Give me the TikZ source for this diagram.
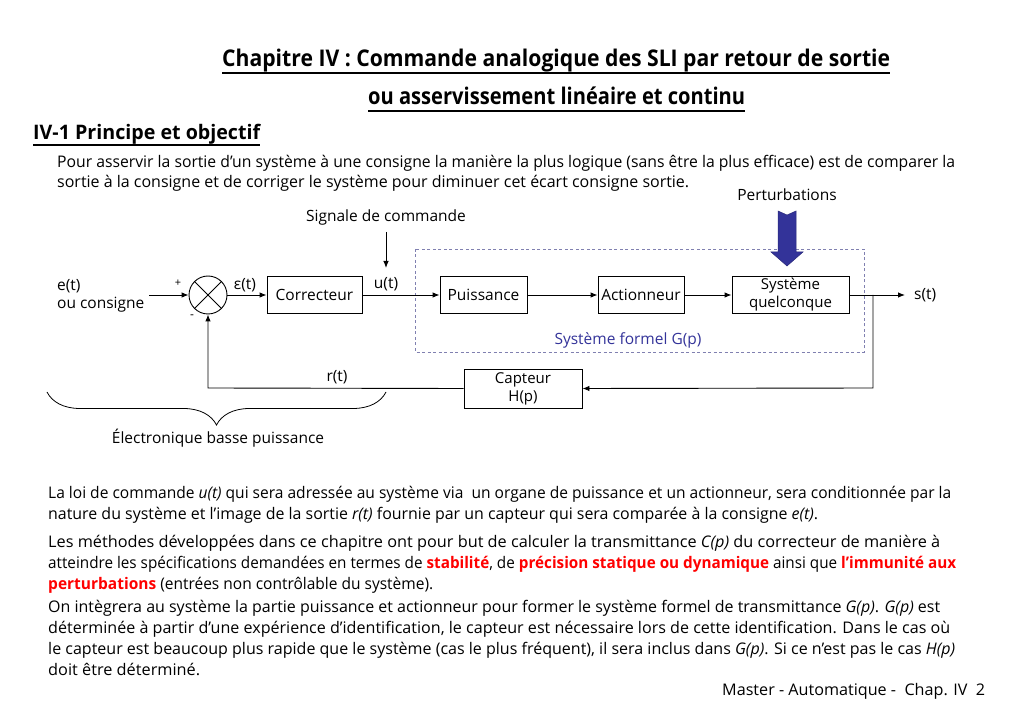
\documentclass[tikz,border=0pt]{standalone}
\usepackage{fontspec}
\setmainfont{Open Sans}
\usetikzlibrary{arrows.meta,decorations.pathreplacing}
\definecolor{navy}{RGB}{51,51,153}
\definecolor{dashc}{RGB}{128,128,176}
\definecolor{hired}{RGB}{255,0,0}
\newcommand{\hl}[1]{\textbf{\color{hired}#1}}
\newcommand{\diagfont}{\fontsize{15.5}{18}\selectfont}
\newcommand{\parfont}{\fontsize{16}{19}\selectfont}
\begin{document}
\begin{tikzpicture}[x=1pt,y=-1pt,
  blk/.style={draw,line width=0.9pt,inner sep=0pt,align=center,font=\fontsize{15.5}{18}\selectfont,minimum height=37pt},
  lbl/.style={inner sep=0pt,font=\diagfont},
  pline/.style={anchor=base west,inner sep=0pt,font=\parfont},
  tline/.style={anchor=base west,inner sep=0pt,font=\fontsize{23}{26}\selectfont\bfseries},
  sline/.style={anchor=base west,inner sep=0pt,font=\fontsize{20}{24}\selectfont\bfseries},
  uline/.style={line width=1.4pt},
  sig/.style={line width=0.9pt,-{Latex[length=7pt,width=5.5pt]}},
  wire/.style={line width=0.9pt}]
\useasboundingbox (0,0) rectangle (1023,708);

% titles
\node[tline] (t1) at (222,67) {\resizebox{668pt}{\height}{Chapitre IV : Commande analogique des SLI par retour de sortie}};
\node[tline] (t2) at (368,105) {\resizebox{377pt}{\height}{ou asservissement linéaire et continu}};
\node[sline] (t3) at (33,140) {\resizebox{227pt}{\height}{IV-1 Principe et objectif}};
\draw[uline] (t1.base west) ++(0,6) -- ([yshift=-6pt]t1.base east);
\draw[uline] (t2.base west) ++(0,6) -- ([yshift=-6pt]t2.base east);
\draw[uline] (t3.base west) ++(0,5) -- ([yshift=-5pt]t3.base east);

% intro paragraph
\node[pline] (p1) at (57,168) {\resizebox{898pt}{\height}{Pour asservir la sortie d’un système à une consigne la manière la plus logique (sans être la plus efficace) est de comparer la}};
\node[pline] (p2) at (57,188) {\resizebox{632pt}{\height}{sortie à la consigne et de corriger le système pour diminuer cet écart consigne sortie.}};

% diagram
\draw[dashc,dashed,line width=0.8pt,dash pattern=on 3pt off 2.5pt] (415,249) rectangle (864,352);
\node[lbl,navy] (sf) at (628,340) {Système formel G(p)};

\node[draw,circle,line width=0.9pt,minimum size=38pt,inner sep=0pt] (sum) at (208,295) {};
\draw[line width=0.8pt] (sum.north west) -- (sum.south east);
\draw[line width=0.8pt] (sum.north east) -- (sum.south west);

\node[blk,minimum width=95pt] (corr) at (314.5,295) {Correcteur};
\node[blk,minimum width=87pt] (puis) at (483.5,295) {Puissance};
\node[blk,minimum width=86pt] (act) at (641,295) {Actionneur};
\node[blk,minimum width=117pt,font=\fontsize{15}{18}\selectfont] (sys) at (790.5,295) {Système\\quelconque};
\node[blk,minimum width=118pt,minimum height=39pt,font=\fontsize{15}{18}\selectfont] (capt) at (523,388.5) {Capteur\\H(p)};

\node[lbl,anchor=west] (e1) at (57,286) {e(t)};
\node[lbl,anchor=west] (e2) at (57,305) {ou consigne};
\node[lbl,font=\fontsize{11}{12}\selectfont] (plus) at (178,283) {+};
\node[lbl,font=\fontsize{12}{12}\selectfont] (minus) at (192,317) {-};
\node[lbl] (eps) at (245,285) {ε(t)};
\node[lbl] (ut) at (386,284) {u(t)};
\node[lbl,anchor=west] (st) at (914,295) {s(t)};
\node[lbl] (rt) at (337,377) {r(t)};
\node[lbl] (sdc) at (386,217) {Signale de commande};
\node[lbl] (pert) at (787,195) {Perturbations};
\node[lbl] (elec) at (218,438) {Électronique basse puissance};

\coordinate (in) at (149,295);
\coordinate (out) at (905,295);
\coordinate (br) at (873,295);
\coordinate (brd) at (873,388);
\coordinate (fb) at (208,388);
\coordinate (cmdA) at (386,232);
\coordinate (cmdB) at (386,268);

\draw[sig] (in) -- (sum.west);
\draw[sig] (sum.east) -- (corr.west);
\draw[sig] (corr.east) -- (puis.west);
\draw[sig] (puis.east) -- (act.west);
\draw[sig] (act.east) -- (sys.west);
\draw[sig] (sys.east) -- (out);
\draw[sig] (br) -- (brd) -- (capt.east);
\draw[sig] (capt.west) -- (fb) -- (sum.south);
\draw[sig] (cmdA) -- (cmdB);

% perturbation arrow
\fill[navy,draw=navy!80!black,line width=0.5pt] (778,211) -- (787,215) -- (796,211) -- (796,252) -- (803,252) -- (787,266) -- (771,252) -- (778,252) -- cycle;

% brace
\coordinate (brA) at (386,392);
\coordinate (brB) at (47,392);
\draw[line width=0.8pt,decorate,decoration={brace,amplitude=33pt}] (brA) -- (brB);

% bottom text
\node[pline] (b1) at (48,498) {\resizebox{903pt}{\height}{La loi de commande \textit{u(t)} qui sera adressée au système via \ un organe de puissance et un actionneur, sera conditionnée par la}};
\node[pline] (b2) at (48,519) {\resizebox{770pt}{\height}{nature du système et l’image de la sortie \textit{r(t)} fournie par un capteur qui sera comparée à la consigne \textit{e(t)}.}};
\node[pline] (b3) at (48,547) {\resizebox{892pt}{\height}{Les méthodes développées dans ce chapitre ont pour but de calculer la transmittance \textit{C(p)} du correcteur de manière à}};
\node[pline] (b4) at (48,568) {\resizebox{908pt}{\height}{atteindre les spécifications demandées en termes de \hl{stabilité}, de \hl{précision statique ou dynamique} ainsi que \hl{l’immunité aux}}};
\node[pline] (b5) at (48,589) {\resizebox{385pt}{\height}{\hl{perturbations} (entrées non contrôlable du système).}};
\node[pline] (b6) at (48,612) {\resizebox{892pt}{\height}{On intègrera au système la partie puissance et actionneur pour former le système formel de transmittance \textit{G(p)}. \textit{G(p)} est}};
\node[pline] (b7) at (48,633) {\resizebox{902pt}{\height}{déterminée à partir d’une expérience d’identification, le capteur est nécessaire lors de cette identification. Dans le cas où}};
\node[pline] (b8) at (48,654) {\resizebox{907pt}{\height}{le capteur est beaucoup plus rapide que le système (cas le plus fréquent), il sera inclus dans \textit{G(p)}. Si ce n’est pas le cas \textit{H(p)}}};
\node[pline] (b9) at (48,675) {\resizebox{152pt}{\height}{doit être déterminé.}};
\node[pline] (foot) at (722,695) {\resizebox{263pt}{\height}{Master - Automatique - \ Chap. IV \ 2}};
\end{tikzpicture}
\end{document}
